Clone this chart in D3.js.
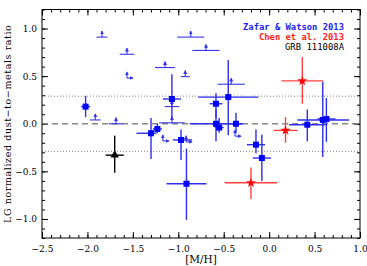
<!DOCTYPE html>
<html>
<head>
<meta charset="utf-8">
<script src="https://cdn.jsdelivr.net/npm/d3@7"></script>
<style>
  body { margin: 0; background: #fff; }
  .tick text { font-family: "DejaVu Serif", serif; font-size: 9px; fill: #000; }
  .domain { display: none; }
  .tick line { stroke: #000; }
</style>
</head>
<body>
<div id="chart-container"></div>
<script>
// Zafar & Watson 2013 detections: [M/H], xerr low, xerr high, DTM, DTM low, DTM high
const zwDetections = [
  [-2.02, 0.05, 0.05, 0.18, 0.07, 0.29],
  [-1.30, 0.16, 0.06, -0.10, -0.37, 0.06],
  [-1.23, 0.05, 0.05, -0.055, -0.10, 0.00],
  [-0.97, 0.09, 0.12, -0.17, -0.38, -0.06],
  [-0.91, 0.22, 0.22, -0.63, -1.01, -0.26],
  [-1.07, 0.10, 0.10, 0.26, 0.06, 0.52],
  [-0.45, 0.33, 0.33, 0.28, -0.12, 0.67],
  [-0.585, 0.07, 0.07, 0.21, 0.06, 0.32],
  [-0.585, 0.29, 0.29, 0.00, -0.185, 0.15],
  [-0.55, 0.05, 0.05, -0.04, -0.095, 0.06],
  [-0.365, 0.08, 0.08, 0.00, -0.10, 0.115],
  [-0.145, 0.10, 0.10, -0.22, -0.31, -0.06],
  [-0.08, 0.10, 0.10, -0.36, -0.60, -0.115],
  [0.42, 0.20, 0.20, -0.01, -0.185, 0.15],
  [0.59, 0.28, 0.29, 0.04, -0.35, 0.44],
  [0.63, 0.10, 0.10, 0.05, -0.19, 0.27]
];

// Zafar & Watson 2013 lower limits on DTM: [M/H], xerr, DTM
const zwLowerLimits = [
  [-1.84, 0.06, 0.91],
  [-1.565, 0.08, 0.73],
  [-1.913, 0.06, 0.04],
  [-1.686, 0.08, 0.00],
  [-0.863, 0.15, 0.91],
  [-0.695, 0.15, 0.77],
  [-1.146, 0.11, 0.59],
  [-0.923, 0.05, 0.495],
  [-0.417, 0.15, 0.415],
  [-1.07, 0.14, 0.01],
  [-1.07, 0.08, 0.18]
];

// lower limits on both [M/H] and DTM
const zwCornerLimits = [
  [-1.565, 0.48],
  [-1.17, -0.18],
  [-0.915, -0.19],
  [-0.376, -0.13]
];

// Chen et al. 2013
const chenPoints = [
  [0.365, 0.23, 0.23, 0.45, 0.21, 0.70],
  [0.18, 0.13, 0.13, -0.07, -0.20, 0.07],
  [-0.20, 0.29, 0.29, -0.62, -0.79, -0.46]
];

// GRB 111008A
const grbPoint = [[-1.70, 0.10, 0.10, -0.33, -0.515, -0.125]];

const xTicks = [-2.5, -2.0, -1.5, -1.0, -0.5, 0.0, 0.5, 1.0];
const yTicks = [-1.0, -0.5, 0.0, 0.5, 1.0];
const scatterLevel = 0.29;

const legendLabels = ["Zafar & Watson 2013", "Chen et al. 2013", "GRB 111008A"];
const legendColors = ["#2222ee", "#ff1a1a", "#000"];

const width = 367, height = 266;
const margin = {top: 9.5, right: 7, bottom: 28, left: 42};

const svg = d3.select("#chart-container").append("svg")
    .attr("width", width)
    .attr("height", height)
    .style("display", "block");

const x = d3.scaleLinear().domain([-2.5, 1.0]).range([margin.left, width - margin.right]);
const y = d3.scaleLinear().domain([-1.2, 1.2]).range([height - margin.bottom, margin.top]);

const x0 = x.range()[0], x1 = x.range()[1];
const y0 = y.range()[0], y1 = y.range()[1];

// minor ticks
const xMinor = d3.range(-25, 11).map(d => d / 10);
const yMinor = d3.range(-12, 13).map(d => d / 10);

svg.append("g").attr("transform", `translate(0,${y0})`)
    .call(d3.axisBottom(x).tickValues(xMinor).tickSize(-3).tickFormat(""));
svg.append("g").attr("transform", `translate(0,${y1})`)
    .call(d3.axisTop(x).tickValues(xMinor).tickSize(-3).tickFormat(""));
svg.append("g").attr("transform", `translate(${x0},0)`)
    .call(d3.axisLeft(y).tickValues(yMinor).tickSize(-3).tickFormat(""));
svg.append("g").attr("transform", `translate(${x1},0)`)
    .call(d3.axisRight(y).tickValues(yMinor).tickSize(-3).tickFormat(""));

// major ticks
svg.append("g").attr("transform", `translate(0,${y0})`)
    .call(d3.axisBottom(x).tickValues(xTicks).tickSize(-6).tickPadding(8).tickFormat(d3.format(".1f")));
svg.append("g").attr("transform", `translate(0,${y1})`)
    .call(d3.axisTop(x).tickValues(xTicks).tickSize(-6).tickFormat(""));
svg.append("g").attr("transform", `translate(${x0},0)`)
    .call(d3.axisLeft(y).tickValues(yTicks).tickSize(-6).tickPadding(5).tickFormat(d3.format(".1f")));
svg.append("g").attr("transform", `translate(${x1},0)`)
    .call(d3.axisRight(y).tickValues(yTicks).tickSize(-6).tickFormat(""));

svg.selectAll(".tick line").attr("stroke-width", 1);

// reference lines
svg.append("line")
    .attr("x1", x0).attr("x2", x1)
    .attr("y1", y(0)).attr("y2", y(0))
    .attr("stroke", "#888").attr("stroke-width", 1.5)
    .attr("stroke-dasharray", "6,4");
[scatterLevel, -scatterLevel].forEach(v => {
    svg.append("line")
        .attr("x1", x0).attr("x2", x1)
        .attr("y1", y(v)).attr("y2", y(v))
        .attr("stroke", "#888").attr("stroke-width", 1)
        .attr("stroke-dasharray", "1,2");
});

// frame
svg.append("rect")
    .attr("x", x0).attr("y", y1)
    .attr("width", x1 - x0).attr("height", y0 - y1)
    .attr("fill", "none").attr("stroke", "#000").attr("stroke-width", 1);

const plot = svg.append("g");

// arrowheads
const defs = svg.append("defs");
defs.append("marker")
    .attr("id", "arrow")
    .attr("viewBox", "0 0 6 6")
    .attr("refX", 5).attr("refY", 3)
    .attr("markerWidth", 4).attr("markerHeight", 4)
    .attr("markerUnits", "userSpaceOnUse")
    .attr("orient", "auto")
    .append("path").attr("d", "M0,0L6,3L0,6Z").attr("fill", "#3333ee");

function errorBars(data, color) {
    const g = plot.append("g").attr("stroke", color).attr("stroke-width", 1.4);
    g.selectAll(".xerr").data(data).enter().append("line")
        .attr("x1", d => x(d[0] - d[1])).attr("x2", d => x(d[0] + d[2]))
        .attr("y1", d => y(d[3])).attr("y2", d => y(d[3]));
    g.selectAll(".yerr").data(data).enter().append("line")
        .attr("x1", d => x(d[0])).attr("x2", d => x(d[0]))
        .attr("y1", d => y(d[4])).attr("y2", d => y(d[5]));
}

// lower limits
const llColor = "#3838e8";
const ll = plot.append("g").attr("stroke", llColor).attr("stroke-width", 1.1);
ll.selectAll(".bar").data(zwLowerLimits).enter().append("line")
    .attr("x1", d => x(d[0] - d[1])).attr("x2", d => x(d[0] + d[1]))
    .attr("y1", d => y(d[2])).attr("y2", d => y(d[2]));
ll.selectAll(".up").data(zwLowerLimits).enter().append("line")
    .attr("x1", d => x(d[0])).attr("x2", d => x(d[0]))
    .attr("y1", d => y(d[2])).attr("y2", d => y(d[2]) - 6)
    .attr("marker-end", "url(#arrow)");

ll.selectAll(".cup").data(zwCornerLimits).enter().append("line")
    .attr("x1", d => x(d[0])).attr("x2", d => x(d[0]))
    .attr("y1", d => y(d[1])).attr("y2", d => y(d[1]) - 6)
    .attr("marker-end", "url(#arrow)");
ll.selectAll(".cright").data(zwCornerLimits).enter().append("line")
    .attr("x1", d => x(d[0])).attr("x2", d => x(d[0]) + 6)
    .attr("y1", d => y(d[1])).attr("y2", d => y(d[1]))
    .attr("marker-end", "url(#arrow)");

// Zafar & Watson detections
errorBars(zwDetections, "#2e2ef0");
plot.append("g").selectAll("rect").data(zwDetections).enter().append("rect")
    .attr("x", d => x(d[0]) - 3).attr("y", d => y(d[3]) - 3)
    .attr("width", 6).attr("height", 6)
    .attr("fill", "#0000ff");

// Chen et al.
errorBars(chenPoints, "#ff4040");
const star = d3.symbol().type(d3.symbolStar).size(30);
plot.append("g").selectAll("path").data(chenPoints).enter().append("path")
    .attr("d", star)
    .attr("transform", d => `translate(${x(d[0])},${y(d[3])})`)
    .attr("fill", "#ff0000");

// GRB 111008A
errorBars(grbPoint, "#000");
plot.append("g").selectAll("path").data(grbPoint).enter().append("path")
    .attr("d", d3.symbol().type(d3.symbolTriangle).size(30))
    .attr("transform", d => `translate(${x(d[0])},${y(d[3])})`)
    .attr("fill", "#000");

// legend
const legendWidths = [101, 85, 59];
svg.append("g").selectAll("text").data(legendLabels).enter().append("text")
    .attr("x", (d, i) => 344 - legendWidths[i])
    .attr("y", (d, i) => 30 + i * 10.2)
    .attr("textLength", (d, i) => legendWidths[i])
    .attr("lengthAdjust", "spacingAndGlyphs")
    .attr("font-family", "'DejaVu Sans Mono', 'Liberation Mono', monospace")
    .attr("font-size", 9)
    .attr("font-weight", (d, i) => i < 2 ? "bold" : "normal")
    .attr("fill", (d, i) => legendColors[i])
    .text(d => d);

// axis titles
svg.append("text")
    .attr("x", (x0 + x1) / 2).attr("y", 263)
    .attr("text-anchor", "middle")
    .attr("font-family", "'DejaVu Serif', serif")
    .attr("font-size", 10.5)
    .text("[M/H]");

svg.append("text")
    .attr("transform", `translate(10.5,${(y0 + y1) / 2}) rotate(-90)`)
    .attr("text-anchor", "middle")
    .attr("font-family", "'DejaVu Serif', serif")
    .attr("font-size", 9.5)
    .attr("letter-spacing", 0.6)
    .text("LG normalized dust\u2212to\u2212metals ratio");
</script>
</body>
</html>
